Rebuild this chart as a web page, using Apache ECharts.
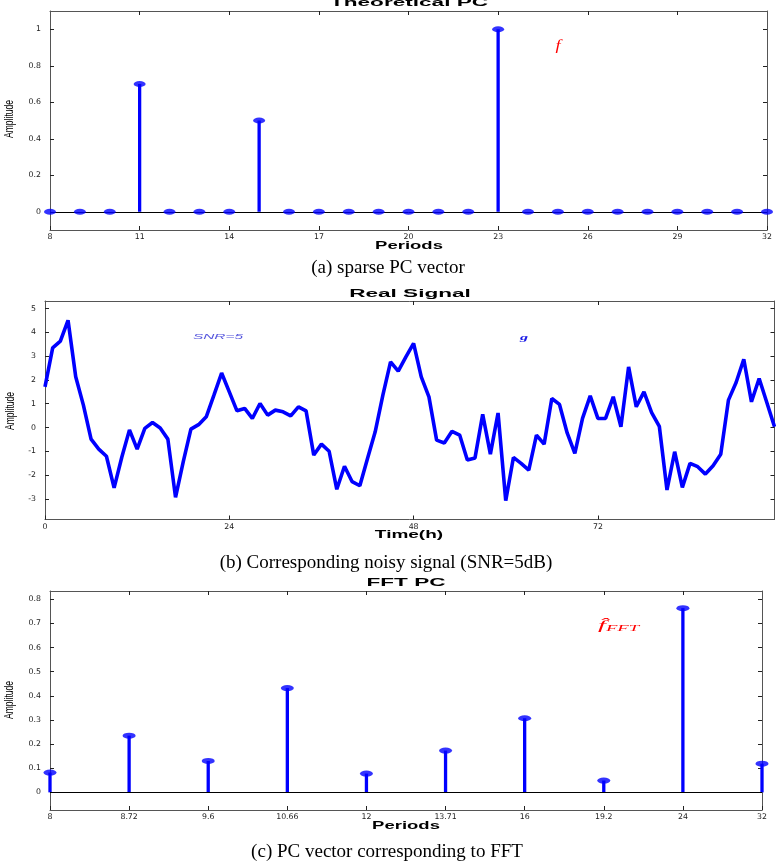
<!DOCTYPE html>
<html>
<head>
<meta charset="utf-8">
<script src="https://cdn.jsdelivr.net/npm/echarts@6/dist/echarts.min.js"></script>
<style>
html,body{margin:0;padding:0;background:#fff;}
#chart{width:776px;height:863px;}
</style>
</head>
<body>
<div id="chart"></div>
<script>
// ---------- (a) Theoretical PC ----------
const periodsA = [8,9,10,11,12,13,14,15,16,17,18,19,20,21,22,23,24,25,26,27,28,29,30,31,32];
const pcA      = [0,0,0,0.7,0,0,0,0.5,0,0,0,0,0,0,0,1.0,0,0,0,0,0,0,0,0,0];
const xTicksA  = [8,11,14,17,20,23,26,29,32];
const yTicksA  = [0,0.2,0.4,0.6,0.8,1];

// ---------- (b) Real Signal (hourly) ----------
const signalValues = [
  1.71, 3.35, 3.63, 4.51, 2.13, 0.94,-0.49,-0.91,-1.21,-2.54,
 -1.25,-0.10,-0.91,-0.04, 0.21,-0.02,-0.49,-2.94,-1.45,-0.07,
  0.12, 0.45, 1.36, 2.29, 1.50, 0.70, 0.80, 0.38, 1.01, 0.52,
  0.73, 0.66, 0.49, 0.87, 0.70,-1.16,-0.70,-1.00,-2.60,-1.63,
 -2.28,-2.45,-1.30,-0.18, 1.36, 2.76, 2.37, 2.97, 3.54, 2.13,
  1.29,-0.53,-0.65,-0.16,-0.32,-1.37,-1.28, 0.55,-1.12, 0.61,
 -3.08,-1.26,-1.51,-1.79,-0.32,-0.70, 1.22, 0.97,-0.23,-1.09,
  0.38, 1.33, 0.38, 0.38, 1.29, 0.03, 2.55, 0.87, 1.50, 0.63,
  0.05,-2.63,-1.02,-2.52,-1.51,-1.65,-1.96,-1.61,-1.13, 1.15,
  1.89, 2.87, 1.08, 2.06, 1.05, 0.03
];
const xTicksB = [0,24,48,72];
const yTicksB = [-3,-2,-1,0,1,2,3,4,5];

// ---------- (c) FFT PC ----------
const fftPeriodLabels = ['8','8.72','9.6','10.66','12','13.71','16','19.2','24','32'];
const fftPc           = [0.082,0.235,0.130,0.432,0.078,0.173,0.307,0.049,0.763,0.119];
const yTicksC = [0,0.1,0.2,0.3,0.4,0.5,0.6,0.7,0.8];

// ---------- build ----------
const BLUE = '#0000ff';
const FRAME = '#555';
const labelFont = {fontFamily:'DejaVu Sans', fontSize:7.8, color:'#222'};

function xAx(gi, min, max, ticks, top, fmt){
  return {
    type:'value', gridIndex:gi, min:min, max:max, position: top?'top':'bottom',
    axisLine:{show:true, onZero:false, lineStyle:{color:FRAME, width:1}},
    axisTick:{show:true, inside:true, length:4, customValues:ticks, lineStyle:{color:'#222'}},
    axisLabel:{show:!top, customValues:ticks, margin:3, formatter:fmt, ...labelFont},
    splitLine:{show:false}
  };
}
function yAx(gi, min, max, ticks, right, fmt){
  return {
    type:'value', gridIndex:gi, min:min, max:max, position: right?'right':'left',
    axisLine:{show:true, onZero:false, lineStyle:{color:FRAME, width:1}},
    axisTick:{show:true, inside:true, length:4, customValues:ticks, lineStyle:{color:'#222'}},
    axisLabel:{show:!right, customValues:ticks, margin:9, formatter:fmt, ...labelFont},
    splitLine:{show:false}
  };
}

function stemRender(params, api){
  const x = api.value(0), y = api.value(1);
  const p0 = api.coord([x,0]), p1 = api.coord([x,y]);
  return {type:'line', shape:{x1:p0[0],y1:p0[1],x2:p1[0],y2:p1[1]},
          style:{stroke:BLUE, lineWidth:3.3}};
}
const baseLine = {silent:true, symbol:['none','none'], label:{show:false},
                  lineStyle:{color:'#000', width:1, type:'solid'}, data:[{yAxis:0}]};

const dataA = periodsA.map((p,i)=>[p, pcA[i]]);
const dataB = signalValues.map((v,i)=>[i, v]);
const dataC = fftPc.map((v,i)=>[i, v]);

const fmtNum = v => String(+v.toFixed(2));
const fmtFft = v => fftPeriodLabels[Math.round(v)];

function gText(text, x, y, font, fill, opts){
  return Object.assign({type:'text', x:x, y:y, silent:true,
    style:{text:text, font:font, fill:fill, textAlign:'center', textVerticalAlign:'middle'}}, opts||{});
}

const option = {
  animation:false,
  backgroundColor:'#fff',
  grid:[
    {left:50, top:11, width:717, height:219},
    {left:45, top:301, width:729.5, height:218.5},
    {left:50, top:591, width:712, height:219}
  ],
  xAxis:[
    xAx(0, 8, 32, xTicksA, false, fmtNum),
    xAx(0, 8, 32, xTicksA.slice(1,-1), true, fmtNum),
    xAx(1, 0, 95, xTicksB, false, fmtNum),
    xAx(1, 0, 95, xTicksB.slice(1), true, fmtNum),
    xAx(2, 0, 9, fftPeriodLabels.map((s,i)=>i), false, fmtFft),
    xAx(2, 0, 9, fftPeriodLabels.map((s,i)=>i).slice(1,-1), true, fmtFft)
  ],
  yAxis:[
    yAx(0, -0.1, 1.1, yTicksA, false, fmtNum),
    yAx(0, -0.1, 1.1, yTicksA, true, fmtNum),
    yAx(1, -3.87, 5.32, yTicksB, false, fmtNum),
    yAx(1, -3.87, 5.32, yTicksB, true, fmtNum),
    yAx(2, -0.073, 0.834, yTicksC, false, fmtNum),
    yAx(2, -0.073, 0.834, yTicksC, true, fmtNum)
  ],
  series:[
    {type:'custom', xAxisIndex:0, yAxisIndex:0, data:dataA, renderItem:stemRender, z:1, markLine:baseLine, clip:false},
    {type:'scatter', xAxisIndex:0, yAxisIndex:0, data:dataA, symbol:'circle', symbolSize:[12,6],
      itemStyle:{color:BLUE}, z:10, clip:false},
    {type:'line', xAxisIndex:2, yAxisIndex:2, data:dataB, showSymbol:false, symbol:'none',
      lineStyle:{color:BLUE, width:3.6}, z:3},
    {type:'custom', xAxisIndex:4, yAxisIndex:4, data:dataC, renderItem:stemRender, z:1, markLine:baseLine, clip:false},
    {type:'scatter', xAxisIndex:4, yAxisIndex:4, data:dataC, symbol:'circle', symbolSize:[13,6],
      itemStyle:{color:BLUE}, z:10, clip:true}
  ],
  graphic:[
    // titles
    gText('Theoretical PC', 409, 3, 'bold 10.5px "Liberation Sans"', '#000', {scaleX:2.15}),
    gText('Real Signal', 410, 294, 'bold 10.5px "Liberation Sans"', '#000', {scaleX:2.15}),
    gText('FFT PC', 406, 583, 'bold 10.5px "Liberation Sans"', '#000', {scaleX:2.15}),
    // x axis names
    gText('Periods', 409, 246, 'bold 10px "Liberation Sans"', '#000', {scaleX:1.85}),
    gText('Time(h)', 409, 535, 'bold 10px "Liberation Sans"', '#000', {scaleX:1.9}),
    gText('Periods', 406, 826, 'bold 10px "Liberation Sans"', '#000', {scaleX:1.85}),
    // y axis names
    gText('Amplitude', 9, 119, '13px "Liberation Sans"', '#000', {rotation:Math.PI/2, scaleX:0.66}),
    gText('Amplitude', 10, 411, '13px "Liberation Sans"', '#000', {rotation:Math.PI/2, scaleX:0.66}),
    gText('Amplitude', 9, 700, '13px "Liberation Sans"', '#000', {rotation:Math.PI/2, scaleX:0.66}),
    // annotations
    gText('f', 558, 46, 'italic 14px "Liberation Serif"', '#ff0000', {scaleX:1.3}),
    gText('SNR=5', 218, 337.5, 'italic 7px "Liberation Sans"', '#5555dd', {scaleX:2.2}),
    gText('g', 524, 338, 'italic bold 9px "Liberation Serif"', '#1a1ae6', {scaleX:1.8}),
    {type:'text', x:598, y:626, silent:true, scaleX:2.2,
      style:{text:'{a|f\u0302}{b|FFT}', textAlign:'left', textVerticalAlign:'middle', fill:'#ff0000',
        rich:{a:{font:'italic 13px "Liberation Serif"', fill:'#ff0000'},
              b:{font:'italic 8.5px "Liberation Serif"', fill:'#ff0000', padding:[5,0,0,0]}}}},
    // captions
    gText('(a) sparse PC vector', 388, 268, '19px "Liberation Serif"', '#000'),
    gText('(b) Corresponding noisy signal (SNR=5dB)', 386, 563, '19px "Liberation Serif"', '#000'),
    gText('(c) PC vector corresponding to FFT', 387, 852, '19px "Liberation Serif"', '#000')
  ]
};

const chart = echarts.init(document.getElementById('chart'), null, {renderer:'canvas'});
chart.setOption(option);
</script>
</body>
</html>
